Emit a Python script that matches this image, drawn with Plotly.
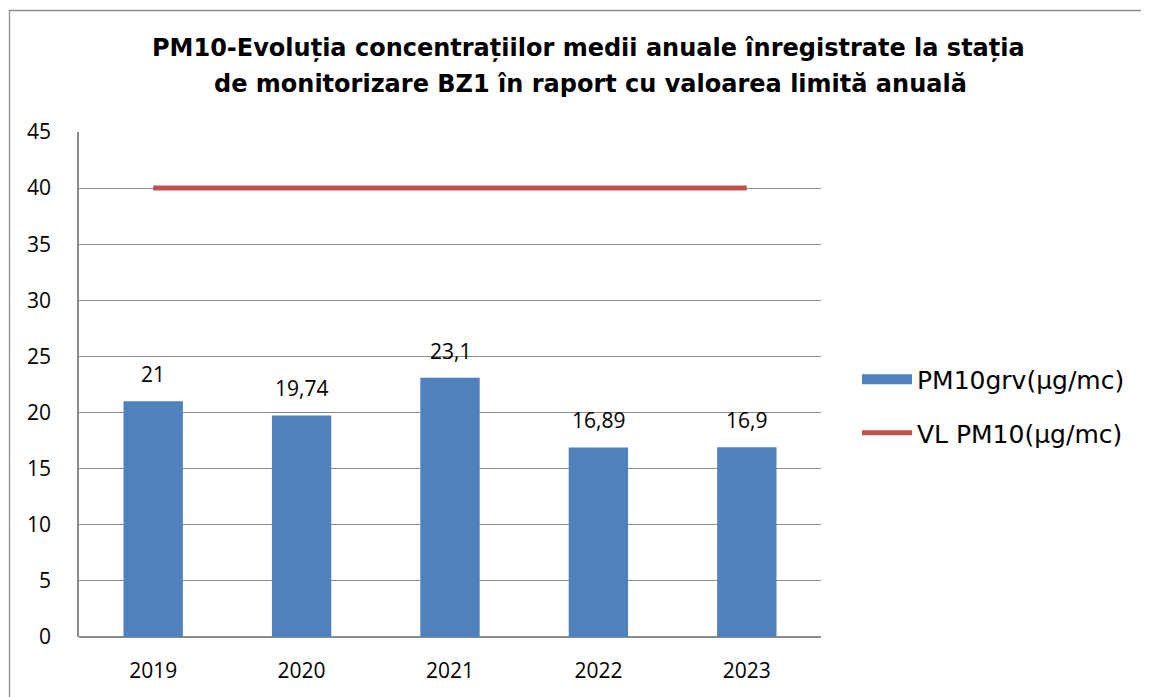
import plotly.graph_objects as go

years = ["2019", "2020", "2021", "2022", "2023"]
pm10_values = [21, 19.74, 23.1, 16.89, 16.9]
limit_values = [40, 40, 40, 40, 40]
bar_labels = ["21", "19,74", "23,1", "16,89", "16,9"]

title_line1 = "<b>PM10-Evoluția concentrațiilor medii anuale înregistrate la stația</b>"
title_line2 = "<b>de monitorizare BZ1 în raport cu valoarea limită anuală</b>"

# page body has an 8px margin; work in figure pixels = screen - 8
OFF = 8
W, H = 1149 - OFF, 697 - OFF
L = 79 - OFF
PR = 821 - OFF
PT = 132 - OFF
PB = 637 - OFF
R, T, B = W - PR, PT, H - PB
pw, ph = PR - L, PB - PT


def px_x(sx):
    return (sx - OFF - L) / pw


def px_y(sy):
    return (PB - (sy - OFF)) / ph


blue = "#4F81BD"
red = "#C0504D"
tick_font = dict(family="Open Sans, Lato, sans-serif", size=21, color="#000000")
title_font = dict(family="DejaVu Sans, Verdana, sans-serif", size=24, color="#000000")

xpos = list(range(len(years)))

fig = go.Figure()
fig.add_trace(go.Bar(
    x=xpos, y=pm10_values, name="PM10grv(µg/mc)", showlegend=False,
    marker=dict(color=blue, line=dict(width=0)), width=0.4,
))
# legend entry for the bars, drawn as a wide swatch like the original
fig.add_trace(go.Scatter(
    x=[None], y=[None], name="PM10grv(µg/mc)", mode="lines", legendgroup="a",
    line=dict(color=blue, width=16),
))
fig.add_trace(go.Scatter(
    x=xpos, y=limit_values, name="VL PM10(µg/mc)", mode="lines", legendgroup="b",
    line=dict(color=red, width=5),
))

for x, y, t in zip(xpos, pm10_values, bar_labels):
    fig.add_annotation(x=x, y=y, xref="x", yref="y", text=t, showarrow=False, yshift=27, font=tick_font)

fig.add_annotation(xref="paper", yref="paper", x=px_x(588), y=px_y(48), text=title_line1,
                   showarrow=False, xanchor="center", yanchor="middle", font=title_font)
fig.add_annotation(xref="paper", yref="paper", x=px_x(590), y=px_y(84), text=title_line2,
                   showarrow=False, xanchor="center", yanchor="middle", font=title_font)

fig.add_shape(type="rect", xref="paper", yref="paper",
              x0=px_x(9.5), x1=px_x(1170),
              y0=px_y(720), y1=px_y(10.5),
              line=dict(color="#8C8C8C", width=1.3), fillcolor="rgba(0,0,0,0)", layer="below")

fig.update_layout(
    width=W, height=H,
    margin=dict(l=L, r=R, t=T, b=B),
    paper_bgcolor="white", plot_bgcolor="white",
    legend=dict(x=px_x(857), y=px_y(406), xanchor="left", yanchor="middle",
                font=dict(family="DejaVu Sans, Verdana, sans-serif", size=25, color="#000000"),
                bgcolor="rgba(0,0,0,0)", tracegroupgap=18, itemwidth=50),
    xaxis=dict(range=[-0.5, len(years) - 0.5], tickvals=xpos, ticktext=years,
               showgrid=False, showline=False, zeroline=False, ticks="", tickfont=tick_font,
               ticklabelstandoff=19),
    yaxis=dict(range=[0, 45], dtick=5, showgrid=True, gridcolor="#8C8C8C", gridwidth=1.2,
               showline=True, linecolor="#8C8C8C", linewidth=1.5, zeroline=True, zerolinecolor="#8C8C8C",
               zerolinewidth=1.5, ticks="", tickfont=tick_font, ticklabelstandoff=22),
    showlegend=True,
)

fig.write_html("out.html")
